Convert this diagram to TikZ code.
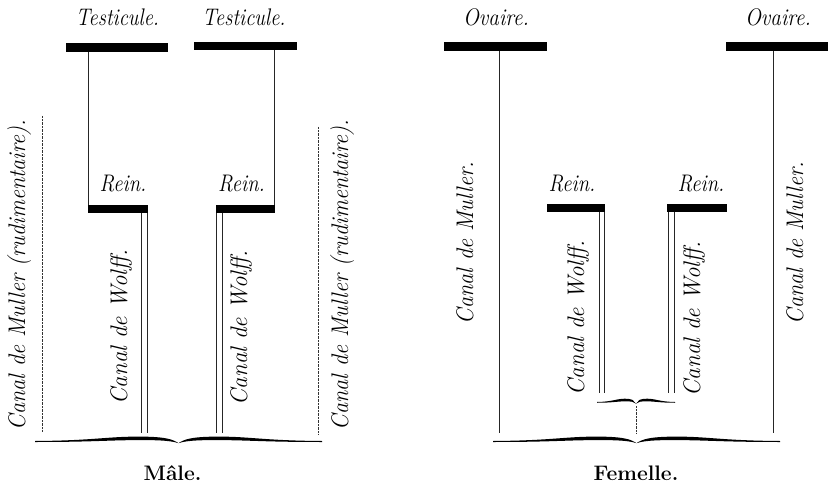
\documentclass[tikz,border=0pt]{standalone}
\usepackage{fontspec}
\usepackage{graphicx}
\usetikzlibrary{calc}
\newcommand\halfaccol[1]{%
  \fill[black] (-#1,0) .. controls (-0.6*#1,-0.4) and (-0.5*#1,-4.4) .. (-0.28*#1,-4.4)
    .. controls (-0.1*#1,-4.4) and (-0.04*#1,-2) .. (0,2.2)
    .. controls (-0.05*#1,-0.2) and (-0.12*#1,-1) .. (-0.28*#1,-0.9)
    .. controls (-0.5*#1,-0.8) and (-0.6*#1,1) .. (-#1,1) -- cycle;}
\newcommand\accolade[4]{% center x, y, half length, vertical factor
  \begin{scope}[shift={(#1,#2)},yscale=#4]
    \halfaccol{#3}
    \begin{scope}[xscale=-1]\halfaccol{#3}\end{scope}
  \end{scope}}
\newcommand\cx[2]{\scalebox{#1}[1]{#2}}
\tikzset{
  organ/.style={fill=black, draw=none, inner sep=0pt, minimum height=8.5pt},
  duct/.style={line width=0.8pt, black!85},
  dots/.style={line width=0.9pt, black!80, dash pattern=on 0.5pt off 0.9pt},
  hlab/.style={font=\fontsize{24}{24}\selectfont\itshape\addfontfeatures{FakeBold=0.7}, inner sep=0pt, anchor=base},
  vlab/.style={hlab, rotate=90},
  sexe/.style={font=\fontsize{21}{21}\selectfont\bfseries, inner sep=0pt, anchor=base}
}
\begin{document}
\begin{tikzpicture}[x=1pt,y=-1pt]
\useasboundingbox (0,0) rectangle (833,484);
% ---------- Male ----------
\node[organ, minimum width=102pt] (t1) at (117,47.5) {};
\node[organ, minimum width=103pt] (t2) at (245.5,46) {};
\node[organ, minimum width=60pt] (r1) at (118,209) {};
\node[organ, minimum width=59pt] (r2) at (245.5,209) {};
\node[hlab] (tl1) at (117.5,26) {\cx{0.85}{Testicule.}};
\node[hlab] (tl2) at (244,26) {\cx{0.85}{Testicule.}};
\node[hlab] (rl1) at (123,192) {\cx{0.86}{Rein.}};
\node[hlab] (rl2) at (241.5,192) {\cx{0.86}{Rein.}};
\coordinate (ta) at (88.6,0);
\coordinate (tb) at (274.6,0);
\draw[duct] (ta |- t1.south) -- (ta |- r1.north);
\draw[duct] (tb |- t2.south) -- (tb |- r2.north);
\coordinate (wa1) at (141.5,433);
\coordinate (wa2) at (147.3,433);
\coordinate (wb1) at (216.7,433);
\coordinate (wb2) at (222.5,433);
\draw[duct] (wa1 |- r1.south) -- (wa1);
\draw[duct] (wa2 |- r1.south) -- (wa2);
\draw[duct] (wb1 |- r2.south) -- (wb1);
\draw[duct] (wb2 |- r2.south) -- (wb2);
\coordinate (d1t) at (42,116);
\coordinate (d1b) at (42,432);
\coordinate (d2t) at (318,127);
\coordinate (d2b) at (318,434);
\draw[dots] (d1t) -- (d1b);
\draw[dots] (d2t) -- (d2b);
\node[vlab] (m1) at (25,275) {\cx{0.93}{Canal de Muller (rudimentaire).}};
\node[vlab] (m2) at (348,275) {\cx{0.93}{Canal de Muller (rudimentaire).}};
\node[vlab] (w1) at (127,327) {\cx{0.96}{Canal de Wolff.}};
\node[vlab] (w2) at (247,328) {\cx{0.96}{Canal de Wolff.}};
\accolade{178.5}{441}{143.5}{1}
\node[sexe] (male) at (172.5,480) {Mâle.};
% ---------- Femelle ----------
\node[organ, minimum width=103pt] (o1) at (495.5,46.5) {};
\node[organ, minimum width=102pt] (o2) at (777,46.5) {};
\node[organ, minimum width=58pt] (r3) at (576,208) {};
\node[organ, minimum width=60pt] (r4) at (697,208) {};
\node[hlab] (ol1) at (496,26) {\cx{0.88}{Ovaire.}};
\node[hlab] (ol2) at (778,26) {\cx{0.88}{Ovaire.}};
\node[hlab] (rl3) at (572,192) {\cx{0.86}{Rein.}};
\node[hlab] (rl4) at (701,192) {\cx{0.86}{Rein.}};
\coordinate (oa) at (499,433);
\coordinate (ob) at (773,433);
\draw[duct] (oa |- o1.south) -- (oa);
\draw[duct] (ob |- o2.south) -- (ob);
\coordinate (fa1) at (599.5,393);
\coordinate (fa2) at (604.5,393);
\coordinate (fb1) at (668.5,393);
\coordinate (fb2) at (674,393);
\draw[duct] (fa1 |- r3.south) -- (fa1);
\draw[duct] (fa2 |- r3.south) -- (fa2);
\draw[duct] (fb1 |- r4.south) -- (fb1);
\draw[duct] (fb2 |- r4.south) -- (fb2);
\accolade{636}{402}{39}{0.75}
\coordinate (d3t) at (636,406);
\coordinate (d3b) at (636,433);
\draw[dots] (d3t) -- (d3b);
\node[vlab] (fm1) at (473,243) {\cx{0.93}{Canal de Muller.}};
\node[vlab] (fm2) at (803,243) {\cx{0.93}{Canal de Muller.}};
\node[vlab] (fw1) at (584,318) {\cx{0.96}{Canal de Wolff.}};
\node[vlab] (fw2) at (700,319) {\cx{0.96}{Canal de Wolff.}};
\accolade{636.5}{441}{143.5}{1}
\node[sexe] (femelle) at (636,480) {Femelle.};
\end{tikzpicture}
\end{document}
